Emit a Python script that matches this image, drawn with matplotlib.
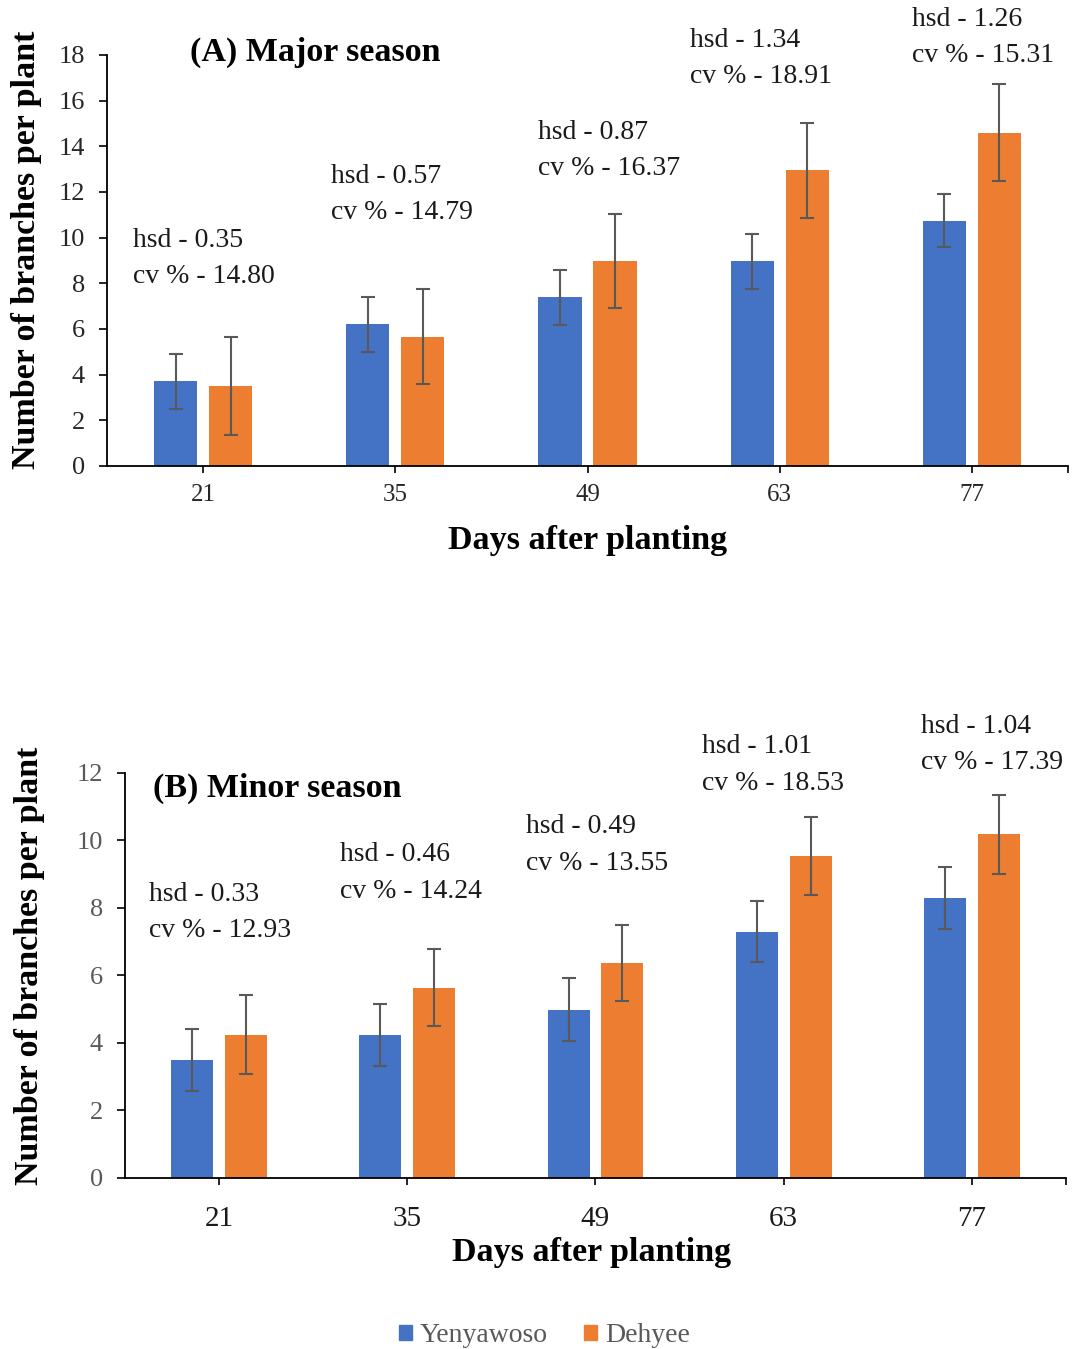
import matplotlib
matplotlib.use("Agg")
import matplotlib.pyplot as plt
from matplotlib.patches import Patch
import numpy as np

plt.rcParams['font.family'] = ['Liberation Serif', 'DejaVu Serif']

# ---------------- data ----------------
days = ["21", "35", "49", "63", "77"]
series_names = ["Yenyawoso", "Dehyee"]

yen_major = [3.71, 6.20, 7.39, 8.97, 10.73]
yen_major_err = [1.20, 1.21, 1.20, 1.20, 1.16]
deh_major = [3.51, 5.66, 8.97, 12.94, 14.60]
deh_major_err = [2.14, 2.08, 2.07, 2.08, 2.12]

yen_minor = [3.49, 4.24, 4.99, 7.30, 8.30]
yen_minor_err = [0.91, 0.92, 0.92, 0.91, 0.92]
deh_minor = [4.24, 5.63, 6.38, 9.55, 10.18]
deh_minor_err = [1.17, 1.14, 1.13, 1.16, 1.16]

hsd_major = ["0.35", "0.57", "0.87", "1.34", "1.26"]
cv_major = ["14.80", "14.79", "16.37", "18.91", "15.31"]
hsd_minor = ["0.33", "0.46", "0.49", "1.01", "1.04"]
cv_minor = ["12.93", "14.24", "13.55", "18.53", "17.39"]

# ---------------- layout ----------------
ann_pos_major = [(-0.365, 9.86), (0.665, 12.66), (1.742, 14.59), (2.533, 18.62), (3.688, 19.54)]
ann_pos_minor = [(-0.37, 8.39), (0.645, 9.57), (1.632, 10.40), (2.566, 12.77), (3.73, 13.39)]

BLUE = "#4472C4"
ORANGE = "#ED7D31"
ERR = "#595959"

fig = plt.figure(figsize=(10.72, 13.49), dpi=100)
ax1 = fig.add_axes([0.0998, 0.6546, 0.8965, 0.3047])
ax2 = fig.add_axes([0.1166, 0.1268, 0.8778, 0.3002])

def draw(ax, yen, yen_err, deh, deh_err, ymax, hsd, cv, pos, title, title_xy,
         xpad, ylab_x, xsize, ysize, ycolor, xcolor):
    x = np.arange(len(days))
    w = 0.224
    off = 0.143
    ekw = dict(ecolor=ERR, elinewidth=1.5, capsize=5, capthick=1.5)
    ax.bar(x - off, yen, w, color=BLUE, yerr=yen_err, error_kw=ekw, zorder=2)
    ax.bar(x + off, deh, w, color=ORANGE, yerr=deh_err, error_kw=ekw, zorder=2)
    ax.set_xlim(-0.5, 4.5)
    ax.set_ylim(0, ymax)
    ax.set_yticks(np.arange(0, ymax + 0.1, 2))
    ax.set_xticks(x)
    ax.set_xticklabels(days)
    ax.set_xticks([4.5], minor=True)
    for s in ["top", "right"]:
        ax.spines[s].set_visible(False)
    for s in ["left", "bottom"]:
        ax.spines[s].set_color("#000000")
        ax.spines[s].set_linewidth(1.3)
    ax.tick_params(axis="y", direction="out", length=6, width=1.2, color="#000000",
                   labelsize=ysize, labelcolor=ycolor, pad=10)
    ax.tick_params(axis="x", which="both", direction="out", length=5, width=1.2,
                   color="#000000", labelsize=xsize, labelcolor=xcolor, pad=xpad)
    ax.set_ylabel("Number of branches per plant", fontsize=24.5, fontweight="bold")
    ax.yaxis.set_label_coords(ylab_x, 0.525)
    ax.text(title_xy[0], title_xy[1], title, transform=ax.transAxes, fontsize=24.5,
            fontweight="bold", ha="left", va="center")
    for (px, py), h, c in zip(pos, hsd, cv):
        ax.annotate("hsd - " + h, (px, py), xycoords="data", ha="left", va="center",
                    fontsize=20, color="#1a1a1a", annotation_clip=False)
        ax.annotate("cv % - " + c, (px, py), xycoords="data", xytext=(0, -26),
                    textcoords="offset points", ha="left", va="center",
                    fontsize=20, color="#1a1a1a", annotation_clip=False)

draw(ax1, yen_major, yen_major_err, deh_major, deh_major_err, 18, hsd_major, cv_major,
     ann_pos_major, "(A) Major season", (0.0864, 1.005), 8, -0.068,
     18, 19, "#262626", "#262626")
draw(ax2, yen_minor, yen_minor_err, deh_minor, deh_minor_err, 12, hsd_minor, cv_minor,
     ann_pos_minor, "(B) Minor season", (0.030, 0.963), 15, -0.085,
     21, 19, "#595959", "#1a1a1a")

fig.text(0.5485, 0.5997, "Days after planting", fontsize=24.5, fontweight="bold",
         ha="center", va="center")
fig.text(0.5522, 0.0712, "Days after planting", fontsize=24.5, fontweight="bold",
         ha="center", va="center")

handles = [Patch(color=BLUE), Patch(color=ORANGE)]
fig.legend(handles, series_names, loc="center", bbox_to_anchor=(0.508, 0.010), ncol=2,
           frameon=False, fontsize=20, labelcolor="#595959", handlelength=0.45,
           handleheight=0.45, handletextpad=0.3, columnspacing=1.3)

fig.savefig("out.png", dpi=100, facecolor="white")
